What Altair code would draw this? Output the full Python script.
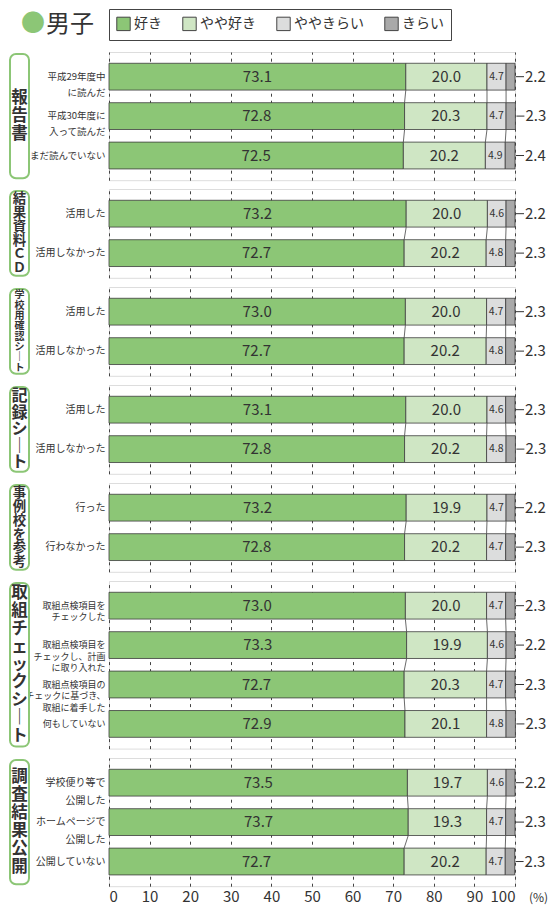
import altair as alt
import pandas as pd

cats = ["好き", "やや好き", "ややきらい", "きらい"]
colors = ["#8cc676", "#cfe6c4", "#dcdddd", "#a9a9a9"]

groups = ["報告書", "結果資料ＣＤ", "学校用確認シート", "記録シート", "事例校を参考",
          "取組チェックシート", "調査結果公開"]
rows = [
    ["平成29年度中\nに読んだ", "平成30年度に\n入って読んだ", "まだ読んでいない"],
    ["活用した", "活用しなかった"],
    ["活用した", "活用しなかった"],
    ["活用した", "活用しなかった"],
    ["行った", "行わなかった"],
    ["取組点検項目を\nチェックした", "取組点検項目を\nチェックし、計画\nに取り入れた",
     "取組点検項目の\nチェックに基づき、\n取組に着手した", "何もしていない"],
    ["学校便り等で\n公開した", "ホームページで\n公開した", "公開していない"],
]
suki = [[73.1, 72.8, 72.5], [73.2, 72.7], [73.0, 72.7], [73.1, 72.8], [73.2, 72.8],
        [73.0, 73.3, 72.7, 72.9], [73.5, 73.7, 72.7]]
yaya_suki = [[20.0, 20.3, 20.2], [20.0, 20.2], [20.0, 20.2], [20.0, 20.2], [19.9, 20.2],
             [20.0, 19.9, 20.3, 20.1], [19.7, 19.3, 20.2]]
yaya_kirai = [[4.7, 4.7, 4.9], [4.6, 4.8], [4.7, 4.8], [4.6, 4.8], [4.7, 4.7],
              [4.7, 4.6, 4.7, 4.8], [4.6, 4.7, 4.7]]
kirai = [[2.2, 2.3, 2.4], [2.2, 2.3], [2.3, 2.3], [2.3, 2.3], [2.2, 2.3],
         [2.3, 2.2, 2.3, 2.3], [2.2, 2.3, 2.3]]
label_line_heights = [16, 13, 13, 13, 13, 11.5, 18]
label_sizes = [9.5, 10, 10, 10, 10, 9, 10]
x_ticks = [0, 10, 20, 30, 40, 50, 60, 70, 80, 90, 100]

FONT = "Noto Sans CJK JP"
TXT = "#333333"
GREEN = "#8cc676"
STEP = 39.4
EXTRA = 10
W = 406

panels = []
ng = len(groups)
for gi in range(ng):
    rlist = rows[gi]
    n = len(rlist)
    H = round(n * STEP + EXTRA, 1)
    recs = []
    cums = []
    for ri, lab in enumerate(rlist):
        vals = [suki[gi][ri], yaya_suki[gi][ri], yaya_kirai[gi][ri], kirai[gi][ri]]
        s = 0.0
        c = []
        for k, (cat, v) in enumerate(zip(cats, vals)):
            recs.append(dict(row=lab, cat=cat, start=s, end=s + v, mid=s + v / 2, val=v, k=k))
            s += v
            c.append(s)
        cums.append(c)
    df = pd.DataFrame(recs)

    con = []
    for ri in range(n - 1):
        for b in range(3):
            con.append(dict(r1=rlist[ri], r2=rlist[ri + 1], xa=cums[ri][b], xb=cums[ri + 1][b]))
    dcon = pd.DataFrame(con)

    last = gi == ng - 1
    xaxis = alt.Axis(values=x_ticks, grid=True, gridDash=[3, 4], gridColor="#444444",
                     gridWidth=1, ticks=False, domain=False, labels=last, title=None,
                     labelFontSize=15, labelColor=TXT, labelPadding=3, labelFont=FONT)
    yaxis = alt.Axis(title=None, ticks=False, domain=False, labelExpr="split(datum.label, '\\n')",
                     labelFontSize=label_sizes[gi], labelLineHeight=label_line_heights[gi],
                     labelColor=TXT, labelPadding=4, labelLimit=200, labelFont=FONT)
    yscale = alt.Scale(domain=rlist, paddingInner=0.32, paddingOuter=0.286)

    base = alt.Chart(df)
    bars = base.mark_bar(stroke="#3c3c3c", strokeWidth=0.8).encode(
        x=alt.X("start:Q", scale=alt.Scale(domain=[0, 100], nice=False, zero=True), axis=xaxis),
        x2="end:Q",
        y=alt.Y("row:N", scale=yscale, axis=yaxis),
        color=alt.Color("cat:N", scale=alt.Scale(domain=cats, range=colors),
                        legend=alt.Legend(orient="none", legendX=0, legendY=-43, direction="horizontal",
                                          title=None, symbolType="square", symbolSize=180,
                                          symbolStrokeColor="#444444", symbolStrokeWidth=1,
                                          labelFontSize=14, labelFont=FONT, labelColor=TXT,
                                          strokeColor="#444444", padding=7, columnPadding=18,
                                          labelOffset=3)),
        order="k:Q",
    )
    big = base.transform_filter(alt.FieldOneOfPredicate(field="cat", oneOf=["好き", "やや好き"])).mark_text(
        fontSize=15, color=TXT, font=FONT).encode(
        x="mid:Q", y="row:N", text=alt.Text("val:Q", format=".1f"))
    small = base.transform_filter(alt.FieldEqualPredicate(field="cat", equal="ややきらい")).mark_text(
        fontSize=10.5, color=TXT, font=FONT).encode(
        x="mid:Q", y="row:N", text=alt.Text("val:Q", format=".1f"))
    outs = base.transform_filter(alt.FieldEqualPredicate(field="cat", equal="きらい"))
    lead = outs.mark_rule(color=TXT, strokeWidth=1, xOffset=1, x2Offset=9).encode(
        x="end:Q", x2="end:Q", y="row:N")
    outt = outs.mark_text(fontSize=15, color=TXT, font=FONT, align="left", dx=10).encode(
        x="end:Q", y="row:N", text=alt.Text("val:Q", format=".1f"))
    conn = alt.Chart(dcon).mark_rule(color="#444444", strokeWidth=0.8, yOffset=13.5, y2Offset=-13.5).encode(
        x="xa:Q", x2="xb:Q", y="r1:N", y2="r2:N")

    nchar = len(groups[gi])
    avail = H - 6
    lh = min(18, avail / nchar)
    fs = min(16.5, lh * 0.97)
    gtext = "\n".join(ch if ch != "ー" else "｜" for ch in groups[gi])
    gdf = pd.DataFrame(dict(g=[gtext]))
    box = alt.Chart(gdf).mark_rect(cornerRadius=6, fill="white", stroke=GREEN, strokeWidth=2).encode(
        x=alt.value(-99), x2=alt.value(-80), y=alt.value(2), y2=alt.value(H - 2))
    gt = alt.Chart(gdf).mark_text(fontSize=fs, lineHeight=lh, fontWeight="bold", color=TXT, font=FONT,
                                  lineBreak="\n", baseline="top").encode(
        x=alt.value(-89.5), y=alt.value(H / 2 - nchar * lh / 2 + (lh - fs) / 2), text="g:N")

    layers = [bars, conn, big, small, lead, outt, box, gt]
    if gi == 0:
        tdf = pd.DataFrame(dict(t=["男子"], dot=["●"]))
        dot = alt.Chart(tdf).mark_text(fontSize=24, color=GREEN, font=FONT, align="center",
                                       baseline="middle").encode(
            x=alt.value(-76), y=alt.value(-28), text="dot:N")
        ttl = alt.Chart(tdf).mark_text(fontSize=24, color=TXT, font=FONT, align="left",
                                       baseline="middle").encode(
            x=alt.value(-63), y=alt.value(-27), text="t:N")
        layers += [dot, ttl]
    if last:
        pdf = pd.DataFrame(dict(p=["(%)"]))
        pct = alt.Chart(pdf).mark_text(fontSize=12, color=TXT, font=FONT, align="left",
                                       baseline="middle").encode(
            x=alt.value(W + 14), y=alt.value(H + 12), text="p:N")
        layers.append(pct)
    panels.append(alt.layer(*layers).properties(width=W, height=H))

chart = alt.vconcat(*panels, spacing=7).properties(padding=0).configure_view(
    stroke="#444444", strokeWidth=1.5).configure(font=FONT)

chart.save("out.html", embed_options={"renderer": "svg", "actions": False})
